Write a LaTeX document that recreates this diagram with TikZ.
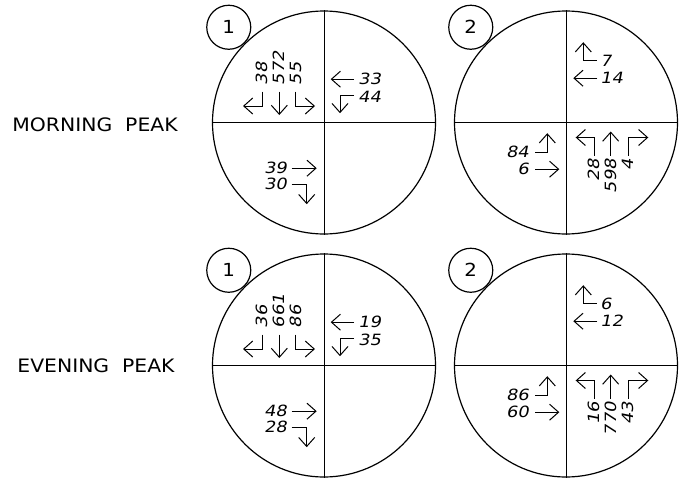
\documentclass[tikz,border=0pt]{standalone}
\usepackage{fontspec}
\usetikzlibrary{arrows.meta}
\newfontfamily\cadfont[FakeStretch=1.1]{DejaVu Sans}
\newfontfamily\cadnum[FakeStretch=1.15,FakeSlant=0.2]{DejaVu Sans}

\tikzset{
  ring/.style={draw, circle, line width=1.2pt, minimum size=223pt, inner sep=0pt},
  tag/.style={draw, circle, line width=1.2pt, minimum size=44pt, inner sep=0pt, font=\cadfont\fontsize{18}{18}\selectfont},
  mv/.style={line width=1pt, -{Straight Barb[length=9pt, width=16pt]}},
  vol/.style={inner sep=1pt, font=\cadnum\fontsize{15.5}{15.5}\selectfont},
  peak/.style={font=\cadfont\fontsize{18.5}{18.5}\selectfont},
}

% junction 1: #1 ring name, then N right, N through, N left, E through, E right, W through, W right
\newcommand\junctionA[8]{%
  \begin{scope}[shift={(#1.center)}]
    \draw[mv] (-62,-31) |- (-81,-16.5);
    \draw[mv] (-44.7,-31) -- (-44.7,-7.5);
    \draw[mv] (-29,-31) |- (-9,-16.5);
    \node[vol, rotate=90, anchor=west] (#1nr) at (-62,-36) {#2};
    \node[vol, rotate=90, anchor=west] (#1nt) at (-44.7,-36) {#3};
    \node[vol, rotate=90, anchor=west] (#1nl) at (-28,-36) {#4};
    \draw[mv] (30,-43.3) -- (6.7,-43.3);
    \draw[mv] (30,-26.7) -| (16,-9.3);
    \node[vol, anchor=west] (#1et) at (33,-43.3) {#5};
    \node[vol, anchor=west] (#1er) at (33,-26) {#6};
    \draw[mv] (-32.3,45.7) -- (-7.3,45.7);
    \draw[mv] (-32.3,61.7) -| (-17.3,81.7);
    \node[vol, anchor=east] (#1wt) at (-36,45.7) {#7};
    \node[vol, anchor=east] (#1wr) at (-36,61.7) {#8};
  \end{scope}}

% junction 2: #1 ring name, then E right, E through, W left, W through, S left, S through, S right
\newcommand\junctionB[8]{%
  \begin{scope}[shift={(#1.center)}]
    \draw[mv] (30.7,-61.7) -| (17.3,-80.3);
    \draw[mv] (31.3,-44.3) -- (7.3,-44.3);
    \node[vol, anchor=west] (#1er) at (33,-61.7) {#2};
    \node[vol, anchor=west] (#1et) at (33,-44.3) {#3};
    \draw[mv] (-31,29.7) -| (-18.7,10.7);
    \draw[mv] (-31,46.7) -- (-6.7,46.7);
    \node[vol, anchor=east] (#1wl) at (-36,29.7) {#4};
    \node[vol, anchor=east] (#1wt) at (-36,46.7) {#5};
    \draw[mv] (28,33.3) |- (9.7,15);
    \draw[mv] (44.7,33.3) -- (44.7,9);
    \draw[mv] (62.3,33.3) |- (82.3,15);
    \node[vol, rotate=90, anchor=east] (#1sl) at (28,35.5) {#6};
    \node[vol, rotate=90, anchor=east] (#1st) at (44.7,35.5) {#7};
    \node[vol, rotate=90, anchor=east] (#1sr) at (62.3,35.5) {#8};
  \end{scope}}

\begin{document}
\begin{tikzpicture}[x=1pt, y=-1pt]
  \useasboundingbox (0,0) rectangle (686,479);

  \node[peak] (morning) at (95,124.5) {MORNING~~PEAK};
  \node[peak] (evening) at (96,366) {EVENING~~PEAK};

  \node[ring] (m1) at (324,122.5) {};
  \node[ring] (m2) at (566,122.5) {};
  \node[ring] (e1) at (324,365.5) {};
  \node[ring] (e2) at (566,365.5) {};

  \foreach \r in {m1, m2, e1, e2} {
    \draw[line width=1pt] (\r.west) -- (\r.east);
    \draw[line width=1pt] (\r.north) -- (\r.south);
  }

  \node[tag, anchor=-45] (m1n) at (m1.north west) {1};
  \node[tag, anchor=-45] (m2n) at (m2.north west) {2};
  \node[tag, anchor=-45] (e1n) at (e1.north west) {1};
  \node[tag, anchor=-45] (e2n) at (e2.north west) {2};

  \junctionA{m1}{38}{572}{55}{33}{44}{39}{30}
  \junctionB{m2}{7}{14}{84}{6}{28}{598}{4}
  \junctionA{e1}{36}{661}{86}{19}{35}{48}{28}
  \junctionB{e2}{6}{12}{86}{60}{16}{770}{43}
\end{tikzpicture}
\end{document}
